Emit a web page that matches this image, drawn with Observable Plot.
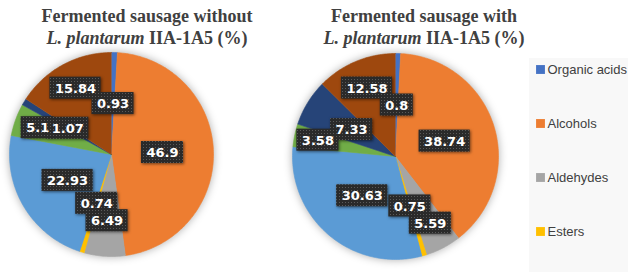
<!DOCTYPE html>
<html>
<head>
<meta charset="utf-8">
<script src="https://cdn.jsdelivr.net/npm/d3@7"></script>
<script src="https://cdn.jsdelivr.net/npm/@observablehq/plot@0.6"></script>
<style>
  html, body { margin: 0; padding: 0; background: #fff; }
  #root { position: relative; width: 628px; height: 273px; overflow: hidden; background: #fff; }
  .title { position: absolute; top: 5px; transform: translateX(-50%); white-space: nowrap; text-align: center;
           font-family: "Liberation Serif", "Times New Roman", serif; font-weight: bold; font-size: 18px;
           line-height: 22px; color: #404040; }
  .pie, .legend { position: absolute; }
  .pie g[aria-label="line"] { filter: drop-shadow(0 0 4px rgba(0,0,0,0.32)); }
  .pie g[aria-label="rect"] rect { fill: url(#dots); }
  .pie g[aria-label="rect"] { filter: drop-shadow(1px 1px 1.5px rgba(0,0,0,0.55)); }
</style>
</head>
<body>
<svg width="0" height="0" style="position:absolute">
  <defs>
    <pattern id="dots" width="3" height="3" patternUnits="userSpaceOnUse">
      <rect width="3" height="3" fill="#2a2a2a"></rect>
      <rect x="1" y="1" width="1" height="1" fill="#5a5a5a"></rect>
    </pattern>
  </defs>
</svg>
<div id="root"></div>
<script>
// ---- data ----
const categories = ["Organic acids", "Alcohols", "Aldehydes", "Esters", "Group 5", "Group 6", "Group 7", "Group 8"];
const palette = ["#4472C4", "#ED7D31", "#A5A5A5", "#FFC000", "#5B9BD5", "#70AD47", "#264478", "#9E480E"];
const withoutValues = [0.93, 46.9, 6.49, 0.74, 22.93, 5.1, 1.07, 15.84];
const withValues = [0.8, 38.74, 5.59, 0.75, 30.63, 3.58, 7.33, 12.58];
const titleFirstLines = ["Fermented sausage without", "Fermented sausage with"];
const speciesName = "L. plantarum";
const strainText = "IIA-1A5 (%)";
const legendCategories = categories.slice(0, 4);

// ---- layout ----
const pies = [
  {values: withoutValues, cx: 111, cy: 154, R: 102, titleX: 147, title: titleFirstLines[0]},
  {values: withValues, cx: 395, cy: 156, R: 103, titleX: 424, title: titleFirstLines[1]}
];
const M = 14;              // svg margin around each pie (room for shadow)
const labelFont = "bold 13px 'DejaVu Sans'";
const padX = 5, boxH = 22;

const root = document.getElementById("root");
const ctx = document.createElement("canvas").getContext("2d");
ctx.font = labelFont;

function slicePoints(values) {
  const total = d3.sum(values);
  const pts = [];
  let acc = 0;
  values.forEach((v, i) => {
    const a0 = acc / total * 2 * Math.PI; acc += v;
    const a1 = acc / total * 2 * Math.PI;
    const n = Math.max(2, Math.ceil((a1 - a0) / (Math.PI / 180)));
    pts.push({cat: categories[i], x: 0, y: 0});
    for (let k = 0; k <= n; k++) {
      const a = a0 + (a1 - a0) * k / n;
      pts.push({cat: categories[i], x: Math.sin(a), y: Math.cos(a)});
    }
  });
  return pts;
}

// labels start half-way out; on overlap they are pushed outward.
// order of placement: first slice, then counter-clockwise from the top.
function placeLabels(values, R) {
  const total = d3.sum(values);
  let acc = 0;
  const items = values.map((v, i) => {
    const a0 = acc / total * 2 * Math.PI; acc += v;
    const a1 = acc / total * 2 * Math.PI;
    const text = String(v);
    return {i, v, am: (a0 + a1) / 2, text, w: ctx.measureText(text).width + 2 * padX, h: boxH};
  });
  const order = [items[0], ...items.slice(1).reverse()];
  const placed = [];
  for (const it of order) {
    const pos = f => [f * R * Math.sin(it.am), -f * R * Math.cos(it.am)];
    let f = 0.5;
    while (f < 0.85) {
      const [px, py] = pos(f);
      const hit = placed.some(p => Math.abs(p.px - px) < (p.w + it.w) / 2 * 0.8 &&
                                   Math.abs(p.py - py) < (p.h + it.h) / 2 * 0.75);
      if (!hit) break;
      f += 0.01;
    }
    [it.px, it.py] = pos(f);
    it.f = f;
    placed.push(it);
  }
  return items.map(it => ({
    text: it.text,
    x: it.f * Math.sin(it.am), y: it.f * Math.cos(it.am),
    x1: (it.px - it.w / 2) / R, x2: (it.px + it.w / 2) / R,
    y1: -(it.py - it.h / 2) / R, y2: -(it.py + it.h / 2) / R
  }));
}

for (const p of pies) {
  // title
  const t = document.createElement("div");
  t.className = "title";
  t.style.left = p.titleX + "px";
  t.append(p.title, document.createElement("br"));
  const it = document.createElement("i"); it.textContent = speciesName;
  t.append(it, " " + strainText);
  root.append(t);

  const labels = placeLabels(p.values, p.R);
  const size = 2 * p.R + 2 * M;
  const chart = Plot.plot({
    width: size, height: size, margin: M,
    style: {background: "transparent", overflow: "visible"},
    x: {domain: [-1, 1], axis: null},
    y: {domain: [-1, 1], axis: null},
    color: {domain: categories, range: palette},
    marks: [
      Plot.line(slicePoints(p.values), {x: "x", y: "y", z: "cat", fill: "cat", stroke: "cat", strokeWidth: 0.6, curve: "linear"}),
      Plot.rect(labels, {x1: "x1", x2: "x2", y1: "y1", y2: "y2", fill: "#2a2a2a"}),
      Plot.text(labels, {x: "x", y: "y", text: "text", fill: "white", fontSize: 13, fontWeight: "bold",
                         fontFamily: "DejaVu Sans", dy: 0.5})
    ]
  });
  chart.classList.add("pie");
  chart.style.left = (p.cx - p.R - M) + "px";
  chart.style.top = (p.cy - p.R - M) + "px";
  root.append(chart);
}

// legend
const legend = Plot.plot({
  width: 99, height: 214, margin: 0,
  style: {background: "#f8f8f8", overflow: "visible"},
  x: {axis: null},
  y: {type: "point", domain: legendCategories, range: [10, 173], padding: 0, axis: null},
  color: {domain: categories, range: palette},
  marks: [
    Plot.dot(legendCategories, {y: d => d, fill: d => d, symbol: "square", r: 5, frameAnchor: "left", dx: 11}),
    Plot.text(legendCategories, {y: d => d, text: d => d, frameAnchor: "left", dx: 18, textAnchor: "start",
                                 fill: "#404040", fontSize: 13, fontFamily: "Liberation Sans"})
  ]
});
legend.classList.add("legend");
legend.style.left = "529px";
legend.style.top = "58px";
root.append(legend);
</script>
</body>
</html>
